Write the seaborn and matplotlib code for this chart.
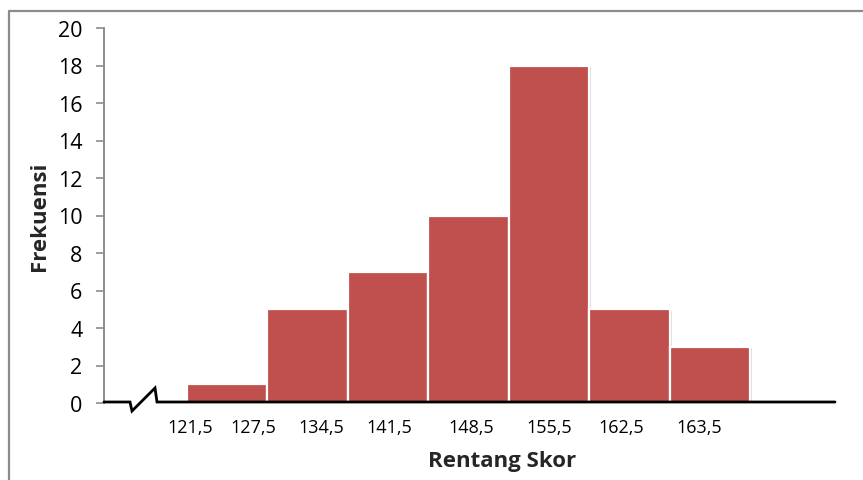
import matplotlib
matplotlib.use("Agg")
import matplotlib.pyplot as plt
import matplotlib.patheffects as pe
from matplotlib.lines import Line2D
import seaborn as sns
import pandas as pd

# ---- data ----
bins = ["b1", "b2", "b3", "b4", "b5", "b6", "b7"]
freq = [1, 5, 7, 10, 18, 5, 3]
tick_labels = ["121,5", "127,5", "134,5", "141,5", "148,5", "155,5", "162,5", "163,5"]
tick_pos = [-0.463, 0.321, 1.166, 2.011, 3.031, 4.001, 4.896, 5.866]
y_ticks = [0, 2, 4, 6, 8, 10, 12, 14, 16, 18, 20]

sns.set_theme(style="white")
plt.rcParams['font.family'] = ['Open Sans', 'DejaVu Sans']

W, H = 863, 481
fig = plt.figure(figsize=(W / 100, H / 100), dpi=100)
fig.patch.set_facecolor("white")

# outer chart frame (top & left visible)
fig.add_artist(Line2D([9 / W, 9 / W], [0, 1 - 12 / H], transform=fig.transFigure,
                      color="#8c8c8c", lw=1.6))
fig.add_artist(Line2D([9 / W, 1], [1 - 12 / H, 1 - 12 / H], transform=fig.transFigure,
                      color="#8c8c8c", lw=1.6))

ax = fig.add_axes([104 / W, 77 / H, (835 - 104) / W, 375 / H])
df = pd.DataFrame({"bin": bins, "freq": freq})
sns.barplot(data=df, x="bin", y="freq", order=bins, color="#C0504D", width=1.0,
            edgecolor="white", linewidth=1.6, saturation=1, ax=ax, zorder=2)
for p in ax.patches:
    p.set_path_effects([pe.SimplePatchShadow(offset=(1.5, -1.0), shadow_rgbFace="#c8c8c8", alpha=0.6),
                        pe.Normal()])

ax.set_xlim(-1.532, 7.557)
ax.set_ylim(0, 20)
ax.set_yticks(y_ticks)
ax.set_yticklabels([str(v) for v in y_ticks], fontsize=15.5, color="black")
ax.set_xticks(tick_pos)
ax.set_xticklabels(tick_labels, fontsize=13, color="black")
ax.tick_params(axis="y", which="both", left=True, length=5.5, width=1.2, color="#8c8c8c",
               direction="out", pad=10)
ax.tick_params(axis="x", which="both", bottom=False, length=0, pad=11)

for s in ["top", "right", "bottom"]:
    ax.spines[s].set_visible(False)
ax.spines["left"].set_color("#8c8c8c")
ax.spines["left"].set_linewidth(1.4)

# x axis line with break symbol (axes-pixel geometry)
def ax_pt(px, py):
    return ((px - 104) / (835 - 104), (404 - py) / 375)

pts = [ax_pt(104, 403), ax_pt(130, 403), ax_pt(132, 412), ax_pt(155, 389),
       ax_pt(157, 403), ax_pt(835, 403)]
xs, ys = zip(*pts)
ax.add_line(Line2D(xs, ys, transform=ax.transAxes, color="black", lw=2.0,
                   clip_on=False, zorder=5, solid_joinstyle="miter"))

ax.set_xlabel("Rentang Skor", fontsize=16, fontweight="bold", labelpad=9)
ax.xaxis.set_label_coords((502 - 104) / (835 - 104), -(462 - 404) / 375)
ax.xaxis.label.set_va("center")
ax.set_ylabel("Frekuensi", fontsize=16, fontweight="bold", labelpad=6)
ax.grid(False)

fig.savefig("out.png", dpi=100, facecolor="white")
